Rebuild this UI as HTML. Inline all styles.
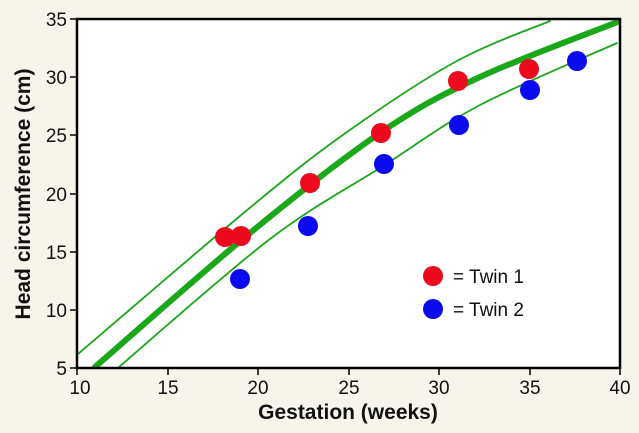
<!DOCTYPE html>
<html><head><style>
html,body{margin:0;padding:0;background:#f7f4ec;}
svg{display:block;font-family:"Liberation Sans",Arial,sans-serif;}
</style></head><body>
<svg id="s" width="639" height="433" viewBox="0 0 639 433" xmlns="http://www.w3.org/2000/svg">
<rect width="639" height="433" fill="#f7f4ec"/>
<rect x="77" y="19" width="543" height="349" fill="#fff"/>
<defs><clipPath id="c"><rect x="77" y="19" width="543" height="349"/></clipPath></defs>
<g clip-path="url(#c)" fill="none" stroke="#1aa81a" stroke-linecap="round">
<path id="up" stroke-width="1.8"/>
<path id="md" stroke-width="6"/>
<path id="lo" stroke-width="1.8"/>
</g>
<rect x="77" y="19" width="543" height="349" fill="none" stroke="#000" stroke-width="2.5"/>
<g stroke="#000" stroke-width="1.5">
<line x1="70" y1="19" x2="77" y2="19"/><line x1="70" y1="77" x2="77" y2="77"/><line x1="70" y1="135" x2="77" y2="135"/><line x1="70" y1="194" x2="77" y2="194"/><line x1="70" y1="252" x2="77" y2="252"/><line x1="70" y1="310" x2="77" y2="310"/><line x1="70" y1="368" x2="77" y2="368"/>
<line x1="77" y1="368" x2="77" y2="375"/><line x1="168" y1="368" x2="168" y2="375"/><line x1="258" y1="368" x2="258" y2="375"/><line x1="349" y1="368" x2="349" y2="375"/><line x1="439" y1="368" x2="439" y2="375"/><line x1="530" y1="368" x2="530" y2="375"/><line x1="620" y1="368" x2="620" y2="375"/>
</g>
<g font-size="19" text-anchor="end" fill="#111">
<text x="67" y="26">35</text><text x="67" y="84">30</text><text x="67" y="142">25</text><text x="67" y="201">20</text><text x="67" y="259">15</text><text x="67" y="317">10</text><text x="67" y="375">5</text>
</g>
<g font-size="19" text-anchor="middle" fill="#111">
<text x="80" y="394">10</text><text x="168" y="394">15</text><text x="258" y="394">20</text><text x="349" y="394">25</text><text x="439" y="394">30</text><text x="530" y="394">35</text><text x="620" y="394">40</text>
</g>
<text x="348" y="419" font-size="21" font-weight="bold" text-anchor="middle" fill="#111">Gestation (weeks)</text>
<text transform="translate(30,194) rotate(-90)" font-size="21" font-weight="bold" text-anchor="middle" fill="#111">Head circumference (cm)</text>
<g fill="#ee0a1e">
<circle cx="225" cy="237" r="10"/><circle cx="241" cy="236" r="10"/><circle cx="310" cy="183" r="10"/><circle cx="381" cy="133" r="10"/><circle cx="458" cy="81" r="10"/><circle cx="529" cy="69" r="10"/>
<circle cx="433" cy="276" r="10"/>
</g>
<g fill="#0a0aee">
<circle cx="240" cy="279" r="10"/><circle cx="308" cy="226" r="10"/><circle cx="384" cy="164" r="10"/><circle cx="459" cy="125" r="10"/><circle cx="530" cy="90" r="10"/><circle cx="577" cy="61" r="10"/>
<circle cx="433" cy="309" r="10"/>
</g>
<g font-size="19" fill="#111"><text x="453" y="283">= Twin 1</text><text x="453" y="316">= Twin 2</text></g>
</svg>
<script>
function cr(p){var d="M"+p[0][0]+","+p[0][1];for(var i=0;i<p.length-1;i++){var a=p[i-1]||p[i],b=p[i],c=p[i+1],e=p[i+2]||c;d+=" C"+(b[0]+(c[0]-a[0])/6)+","+(b[1]+(c[1]-a[1])/6)+" "+(c[0]-(e[0]-b[0])/6)+","+(c[1]-(e[1]-b[1])/6)+" "+c[0]+","+c[1];}return d;}
document.getElementById("md").setAttribute("d",cr([[95,367],[250,233],[380,133],[480,77],[620,21]]));
document.getElementById("up").setAttribute("d",cr([[78,354],[240,216],[340,137],[455,62],[550,21]]));
document.getElementById("lo").setAttribute("d",cr([[119,367],[270,239],[383,166],[480,105],[617,43]]));
</script>
</body></html>
